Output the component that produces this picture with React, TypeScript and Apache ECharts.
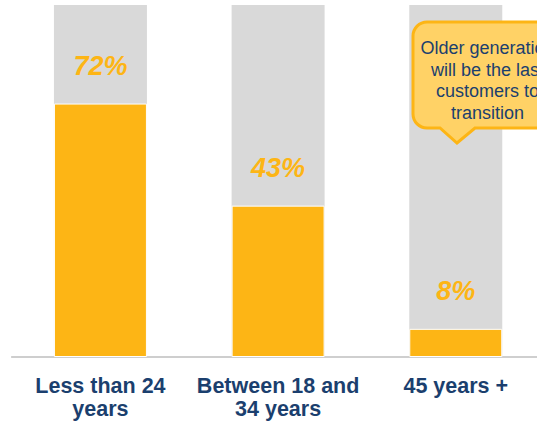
import React, { useEffect, useRef } from "react";
import * as echarts from "echarts";

const categories = ["Less than 24\nyears", "Between 18 and\n34 years", "45 years +"];
const shares = [72, 43, 8];
const calloutLines = ["Older generation", "will be the last", "customers to", "transition"];

const CALLOUT_D =
  "M14,0 H136 A14,14 0 0 1 150,14 V92 A14,14 0 0 1 136,106 H62 L44,121 L27,106 H14 A14,14 0 0 1 0,92 V14 A14,14 0 0 1 14,0 Z";

let registered = false;

export default function App() {
  const ref = useRef<HTMLDivElement>(null);
  useEffect(() => {
    if (!registered) {
      echarts.graphic.registerShape("callout", echarts.graphic.extendPath(CALLOUT_D, {}) as any);
      registered = true;
    }
    const chart = echarts.init(ref.current!, null, { renderer: "svg" });
    const font = "Arial, 'Liberation Sans', sans-serif";
    chart.setOption({
      animation: false,
      grid: { left: 11.6, top: 5, width: 533, height: 352, containLabel: false },
      xAxis: {
        type: "category",
        data: categories,
        axisLine: { lineStyle: { color: "#BFBFBF", width: 1.5 } },
        axisTick: { show: false },
        axisLabel: {
          fontFamily: font,
          fontSize: 21.5,
          fontWeight: "bold",
          color: "#1B3F6E",
          lineHeight: 23,
          margin: 17,
          interval: 0,
        },
      },
      yAxis: { type: "value", min: 0, max: 100, show: false, splitLine: { show: false } },
      series: [
        {
          type: "bar",
          data: shares,
          barWidth: 93,
          showBackground: true,
          backgroundStyle: { color: "#D9D9D9" },
          itemStyle: { color: "#FDB515", borderColor: "#FFFFFF", borderWidth: 1 },
          label: {
            show: true,
            position: "top",
            distance: 24,
            formatter: "{c}%",
            fontFamily: font,
            fontSize: 27,
            fontWeight: "bold",
            fontStyle: "italic",
            color: "#FDB515",
          },
        },
      ],
      graphic: [
        {
          type: "callout",
          x: 413,
          y: 22,
          z: 10,
          style: { fill: "#FFD266", stroke: "#FDB515", lineWidth: 3 },
        },
        ...calloutLines.map((t, i) => ({
          type: "text",
          x: 487.5,
          y: 48 + i * 21.7,
          z: 11,
          style: {
            text: t,
            fill: "#1B3F6E",
            font: `18px ${font}`,
            textAlign: "center",
            textVerticalAlign: "middle",
          },
        })),
      ],
    });
    return () => chart.dispose();
  }, []);
  return (
    <div style={{ width: 537, height: 422, position: "absolute", left: 0, top: 0, overflow: "hidden" }}>
      <div ref={ref} style={{ width: 570, height: 422 }} />
    </div>
  );
}
